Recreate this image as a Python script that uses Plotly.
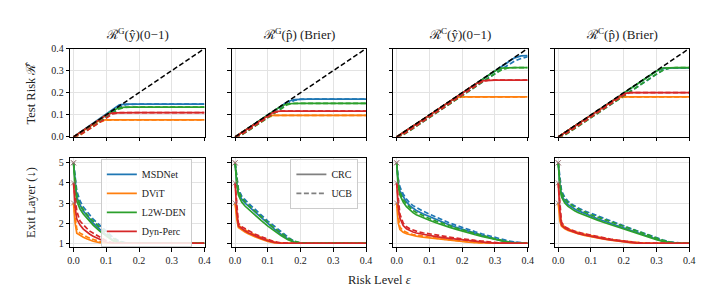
import plotly.graph_objects as go

# ---------------- data ----------------
EPS_TOP = [0.00, 0.02, 0.04, 0.06, 0.08, 0.10, 0.12, 0.14, 0.16, 0.18, 0.20,
           0.22, 0.24, 0.26, 0.28, 0.30, 0.32, 0.34, 0.36, 0.38, 0.40]
EPS_BOT = [0.00, 0.005, 0.01, 0.02, 0.03, 0.04, 0.05, 0.06, 0.08, 0.10, 0.12,
           0.14, 0.16, 0.18, 0.20, 0.22, 0.24, 0.26, 0.28, 0.30, 0.32, 0.34,
           0.36, 0.38, 0.40]
DIAG_X = [0.0, 0.4]
DIAG_Y = [0.0, 0.4]

METHODS = ["MSDNet", "DViT", "L2W-DEN", "Dyn-Perc"]
COLORS = {"MSDNet": "#1f77b4", "DViT": "#ff7f0e", "L2W-DEN": "#2ca02c", "Dyn-Perc": "#d62728"}
DRAW_ORDER = ["MSDNet", "DViT", "L2W-DEN", "Dyn-Perc"]

PANEL_TITLES = ["ℛ<sup>G</sup>(ŷ)(0−1)", "ℛ<sup>G</sup>(p̂) (Brier)",
                "ℛ<sup>C</sup>(ŷ)(0−1)", "ℛ<sup>C</sup>(p̂) (Brier)"]
RISK_TICKS = [0.0, 0.1, 0.2, 0.3, 0.4]
EXIT_TICKS = [1, 2, 3, 4, 5]
EPS_TICKS = [0.0, 0.1, 0.2, 0.3, 0.4]

# --- test risk, panel 1: R^G(y) 0-1
RISK_G01_CRC = {
    "MSDNet":   [0, 0.021, 0.042, 0.064, 0.086, 0.107, 0.128, 0.145, 0.148, 0.148, 0.148, 0.148, 0.148, 0.148, 0.148, 0.148, 0.148, 0.148, 0.148, 0.148, 0.148],
    "DViT":     [0, 0.019, 0.039, 0.059, 0.075, 0.077, 0.077, 0.077, 0.077, 0.077, 0.077, 0.077, 0.077, 0.077, 0.077, 0.077, 0.077, 0.077, 0.077, 0.077, 0.077],
    "L2W-DEN":  [0, 0.019, 0.039, 0.059, 0.079, 0.099, 0.119, 0.132, 0.135, 0.135, 0.135, 0.135, 0.135, 0.135, 0.135, 0.135, 0.135, 0.135, 0.135, 0.135, 0.135],
    "Dyn-Perc": [0, 0.019, 0.039, 0.059, 0.079, 0.099, 0.109, 0.110, 0.110, 0.110, 0.110, 0.110, 0.110, 0.110, 0.110, 0.110, 0.110, 0.110, 0.110, 0.110, 0.110],
}
RISK_G01_UCB = {
    "MSDNet":   [0, 0.012, 0.032, 0.052, 0.072, 0.093, 0.113, 0.133, 0.146, 0.148, 0.148, 0.148, 0.148, 0.148, 0.148, 0.148, 0.148, 0.148, 0.148, 0.148, 0.148],
    "DViT":     [0, 0.008, 0.027, 0.047, 0.067, 0.076, 0.077, 0.077, 0.077, 0.077, 0.077, 0.077, 0.077, 0.077, 0.077, 0.077, 0.077, 0.077, 0.077, 0.077, 0.077],
    "L2W-DEN":  [0, 0.010, 0.029, 0.049, 0.069, 0.089, 0.109, 0.127, 0.134, 0.135, 0.135, 0.135, 0.135, 0.135, 0.135, 0.135, 0.135, 0.135, 0.135, 0.135, 0.135],
    "Dyn-Perc": [0, 0.010, 0.028, 0.048, 0.068, 0.088, 0.104, 0.110, 0.110, 0.110, 0.110, 0.110, 0.110, 0.110, 0.110, 0.110, 0.110, 0.110, 0.110, 0.110, 0.110],
}
# --- panel 2: R^G(p) Brier
RISK_GB_CRC = {
    "MSDNet":   [0, 0.019, 0.039, 0.059, 0.079, 0.099, 0.119, 0.139, 0.159, 0.169, 0.171, 0.171, 0.171, 0.171, 0.171, 0.171, 0.171, 0.171, 0.171, 0.171, 0.171],
    "DViT":     [0, 0.019, 0.039, 0.059, 0.079, 0.096, 0.097, 0.097, 0.097, 0.097, 0.097, 0.097, 0.097, 0.097, 0.097, 0.097, 0.097, 0.097, 0.097, 0.097, 0.097],
    "L2W-DEN":  [0, 0.019, 0.039, 0.059, 0.079, 0.099, 0.119, 0.139, 0.150, 0.152, 0.152, 0.152, 0.152, 0.152, 0.152, 0.152, 0.152, 0.152, 0.152, 0.152, 0.152],
    "Dyn-Perc": [0, 0.019, 0.039, 0.059, 0.079, 0.099, 0.115, 0.117, 0.117, 0.117, 0.117, 0.117, 0.117, 0.117, 0.117, 0.117, 0.117, 0.117, 0.117, 0.117, 0.117],
}
RISK_GB_UCB = {
    "MSDNet":   [0, 0.010, 0.029, 0.049, 0.069, 0.089, 0.109, 0.129, 0.149, 0.165, 0.171, 0.171, 0.171, 0.171, 0.171, 0.171, 0.171, 0.171, 0.171, 0.171, 0.171],
    "DViT":     [0, 0.010, 0.029, 0.049, 0.069, 0.089, 0.097, 0.097, 0.097, 0.097, 0.097, 0.097, 0.097, 0.097, 0.097, 0.097, 0.097, 0.097, 0.097, 0.097, 0.097],
    "L2W-DEN":  [0, 0.009, 0.028, 0.048, 0.068, 0.088, 0.108, 0.128, 0.146, 0.152, 0.152, 0.152, 0.152, 0.152, 0.152, 0.152, 0.152, 0.152, 0.152, 0.152, 0.152],
    "Dyn-Perc": [0, 0.011, 0.030, 0.050, 0.070, 0.090, 0.110, 0.117, 0.117, 0.117, 0.117, 0.117, 0.117, 0.117, 0.117, 0.117, 0.117, 0.117, 0.117, 0.117, 0.117],
}
# --- panel 3: R^C(y) 0-1
RISK_C01_CRC = {
    "MSDNet":   [0, 0.018, 0.038, 0.058, 0.078, 0.098, 0.118, 0.138, 0.158, 0.178, 0.198, 0.218, 0.238, 0.258, 0.278, 0.298, 0.318, 0.338, 0.358, 0.367, 0.368],
    "DViT":     [0, 0.018, 0.038, 0.058, 0.078, 0.098, 0.118, 0.138, 0.158, 0.178, 0.181, 0.181, 0.181, 0.181, 0.181, 0.181, 0.181, 0.181, 0.181, 0.181, 0.181],
    "L2W-DEN":  [0, 0.018, 0.038, 0.058, 0.078, 0.098, 0.118, 0.138, 0.158, 0.178, 0.198, 0.218, 0.238, 0.258, 0.278, 0.298, 0.311, 0.314, 0.314, 0.314, 0.314],
    "Dyn-Perc": [0, 0.018, 0.038, 0.058, 0.078, 0.098, 0.118, 0.138, 0.158, 0.178, 0.198, 0.218, 0.238, 0.254, 0.257, 0.257, 0.257, 0.257, 0.257, 0.257, 0.257],
}
RISK_C01_UCB = {
    "MSDNet":   [0, 0.010, 0.029, 0.049, 0.068, 0.088, 0.108, 0.128, 0.147, 0.167, 0.187, 0.207, 0.227, 0.247, 0.267, 0.287, 0.306, 0.325, 0.343, 0.355, 0.363],
    "DViT":     [0, 0.012, 0.031, 0.051, 0.071, 0.091, 0.111, 0.131, 0.151, 0.171, 0.181, 0.181, 0.181, 0.181, 0.181, 0.181, 0.181, 0.181, 0.181, 0.181, 0.181],
    "L2W-DEN":  [0, 0.009, 0.028, 0.048, 0.068, 0.087, 0.107, 0.127, 0.147, 0.167, 0.187, 0.207, 0.227, 0.247, 0.267, 0.286, 0.303, 0.312, 0.314, 0.314, 0.314],
    "Dyn-Perc": [0, 0.011, 0.030, 0.050, 0.070, 0.090, 0.110, 0.130, 0.150, 0.170, 0.190, 0.210, 0.230, 0.249, 0.257, 0.257, 0.257, 0.257, 0.257, 0.257, 0.257],
}
# --- panel 4: R^C(p) Brier
RISK_CB_CRC = {
    "MSDNet":   [0, 0.018, 0.038, 0.058, 0.078, 0.098, 0.118, 0.138, 0.158, 0.178, 0.198, 0.218, 0.238, 0.258, 0.278, 0.298, 0.310, 0.312, 0.312, 0.312, 0.312],
    "DViT":     [0, 0.018, 0.038, 0.058, 0.078, 0.098, 0.118, 0.138, 0.158, 0.176, 0.181, 0.181, 0.181, 0.181, 0.181, 0.181, 0.181, 0.181, 0.181, 0.181, 0.181],
    "L2W-DEN":  [0, 0.018, 0.038, 0.058, 0.078, 0.098, 0.118, 0.138, 0.158, 0.178, 0.198, 0.218, 0.238, 0.258, 0.278, 0.298, 0.312, 0.314, 0.314, 0.314, 0.314],
    "Dyn-Perc": [0, 0.018, 0.038, 0.058, 0.078, 0.098, 0.118, 0.138, 0.158, 0.178, 0.196, 0.200, 0.200, 0.200, 0.200, 0.200, 0.200, 0.200, 0.200, 0.200, 0.200],
}
RISK_CB_UCB = {
    "MSDNet":   [0, 0.010, 0.029, 0.048, 0.068, 0.088, 0.107, 0.127, 0.147, 0.166, 0.186, 0.206, 0.226, 0.246, 0.266, 0.286, 0.303, 0.311, 0.312, 0.312, 0.312],
    "DViT":     [0, 0.011, 0.030, 0.050, 0.070, 0.090, 0.110, 0.130, 0.150, 0.170, 0.181, 0.181, 0.181, 0.181, 0.181, 0.181, 0.181, 0.181, 0.181, 0.181, 0.181],
    "L2W-DEN":  [0, 0.008, 0.027, 0.047, 0.067, 0.086, 0.106, 0.126, 0.146, 0.166, 0.185, 0.205, 0.225, 0.245, 0.265, 0.285, 0.302, 0.312, 0.314, 0.314, 0.314],
    "Dyn-Perc": [0, 0.011, 0.030, 0.050, 0.070, 0.090, 0.110, 0.130, 0.150, 0.170, 0.189, 0.200, 0.200, 0.200, 0.200, 0.200, 0.200, 0.200, 0.200, 0.200, 0.200],
}

# --- exit layer, panel 1
EXIT_G01_CRC = {
    "MSDNet":   [5, 3.9, 3.3, 2.9, 2.6, 2.4, 2.2, 2.0, 1.7, 1.4, 1.15, 1.03, 1.0, 1, 1, 1, 1, 1, 1, 1, 1, 1, 1, 1, 1],
    "DViT":     [3, 2.0, 1.5, 1.38, 1.3, 1.22, 1.16, 1.1, 1.03, 1.0, 1, 1, 1, 1, 1, 1, 1, 1, 1, 1, 1, 1, 1, 1, 1],
    "L2W-DEN":  [5, 3.7, 3.1, 2.7, 2.45, 2.25, 2.05, 1.9, 1.6, 1.35, 1.12, 1.02, 1.0, 1, 1, 1, 1, 1, 1, 1, 1, 1, 1, 1, 1],
    "Dyn-Perc": [4, 2.8, 2.2, 1.9, 1.7, 1.55, 1.45, 1.35, 1.18, 1.05, 1.0, 1, 1, 1, 1, 1, 1, 1, 1, 1, 1, 1, 1, 1, 1],
}
EXIT_G01_UCB = {
    "MSDNet":   [5, 4.3, 3.6, 3.1, 2.8, 2.6, 2.4, 2.2, 1.9, 1.6, 1.3, 1.1, 1.02, 1.0, 1, 1, 1, 1, 1, 1, 1, 1, 1, 1, 1],
    "DViT":     [3, 2.4, 1.7, 1.5, 1.4, 1.32, 1.25, 1.18, 1.08, 1.02, 1.0, 1, 1, 1, 1, 1, 1, 1, 1, 1, 1, 1, 1, 1, 1],
    "L2W-DEN":  [5, 4.1, 3.4, 2.9, 2.65, 2.45, 2.25, 2.1, 1.8, 1.5, 1.25, 1.07, 1.01, 1.0, 1, 1, 1, 1, 1, 1, 1, 1, 1, 1, 1],
    "Dyn-Perc": [4, 3.2, 2.6, 2.1, 1.9, 1.75, 1.6, 1.5, 1.3, 1.12, 1.02, 1.0, 1, 1, 1, 1, 1, 1, 1, 1, 1, 1, 1, 1, 1],
}
# --- exit layer, panel 2
EXIT_GB_CRC = {
    "MSDNet":   [5, 4.0, 3.5, 3.2, 3.0, 2.85, 2.7, 2.55, 2.25, 1.95, 1.7, 1.45, 1.22, 1.06, 1.0, 1, 1, 1, 1, 1, 1, 1, 1, 1, 1],
    "DViT":     [3, 2.2, 1.78, 1.66, 1.56, 1.47, 1.39, 1.32, 1.2, 1.09, 1.02, 1.0, 1, 1, 1, 1, 1, 1, 1, 1, 1, 1, 1, 1, 1],
    "L2W-DEN":  [5, 3.9, 3.4, 3.05, 2.85, 2.7, 2.55, 2.4, 2.12, 1.85, 1.6, 1.38, 1.18, 1.05, 1.0, 1, 1, 1, 1, 1, 1, 1, 1, 1, 1],
    "Dyn-Perc": [4, 2.6, 1.85, 1.72, 1.62, 1.52, 1.44, 1.37, 1.24, 1.12, 1.04, 1.0, 1, 1, 1, 1, 1, 1, 1, 1, 1, 1, 1, 1, 1],
}
EXIT_GB_UCB = {
    "MSDNet":   [5, 4.3, 3.7, 3.35, 3.15, 3.0, 2.85, 2.7, 2.4, 2.1, 1.85, 1.58, 1.32, 1.1, 1.01, 1.0, 1, 1, 1, 1, 1, 1, 1, 1, 1],
    "DViT":     [3, 2.5, 1.9, 1.76, 1.66, 1.57, 1.49, 1.42, 1.28, 1.16, 1.06, 1.01, 1.0, 1, 1, 1, 1, 1, 1, 1, 1, 1, 1, 1, 1],
    "L2W-DEN":  [5, 4.2, 3.6, 3.25, 3.05, 2.9, 2.75, 2.6, 2.3, 2.02, 1.76, 1.5, 1.27, 1.1, 1.02, 1.0, 1, 1, 1, 1, 1, 1, 1, 1, 1],
    "Dyn-Perc": [4, 3.0, 2.0, 1.82, 1.72, 1.62, 1.54, 1.46, 1.32, 1.19, 1.08, 1.02, 1.0, 1, 1, 1, 1, 1, 1, 1, 1, 1, 1, 1, 1],
}
# --- exit layer, panel 3
EXIT_C01_CRC = {
    "MSDNet":   [5, 4.0, 3.6, 3.3, 3.05, 2.87, 2.74, 2.63, 2.47, 2.33, 2.18, 2.04, 1.92, 1.8, 1.69, 1.58, 1.48, 1.39, 1.3, 1.21, 1.13, 1.07, 1.03, 1.01, 1.0],
    "DViT":     [3, 2.0, 1.68, 1.55, 1.47, 1.42, 1.38, 1.35, 1.3, 1.26, 1.22, 1.18, 1.14, 1.11, 1.08, 1.05, 1.03, 1.01, 1.0, 1, 1, 1, 1, 1, 1],
    "L2W-DEN":  [5, 3.8, 3.4, 3.05, 2.82, 2.65, 2.52, 2.42, 2.27, 2.14, 2.02, 1.9, 1.8, 1.7, 1.6, 1.51, 1.42, 1.34, 1.26, 1.18, 1.1, 1.05, 1.01, 1.0, 1.0],
    "Dyn-Perc": [4, 2.8, 2.25, 1.88, 1.72, 1.63, 1.56, 1.51, 1.44, 1.38, 1.33, 1.28, 1.24, 1.2, 1.16, 1.12, 1.09, 1.06, 1.03, 1.01, 1.0, 1, 1, 1, 1],
}
EXIT_C01_UCB = {
    "MSDNet":   [5, 4.2, 3.8, 3.45, 3.2, 3.0, 2.87, 2.77, 2.6, 2.45, 2.3, 2.15, 2.02, 1.9, 1.78, 1.67, 1.57, 1.47, 1.38, 1.29, 1.2, 1.12, 1.06, 1.02, 1.0],
    "DViT":     [3, 2.3, 1.8, 1.62, 1.53, 1.47, 1.43, 1.4, 1.34, 1.29, 1.25, 1.21, 1.17, 1.14, 1.1, 1.07, 1.04, 1.02, 1.0, 1, 1, 1, 1, 1, 1],
    "L2W-DEN":  [5, 4.0, 3.55, 3.18, 2.95, 2.77, 2.63, 2.53, 2.37, 2.23, 2.1, 1.98, 1.87, 1.77, 1.67, 1.57, 1.48, 1.39, 1.3, 1.22, 1.14, 1.07, 1.02, 1.0, 1.0],
    "Dyn-Perc": [4, 3.0, 2.45, 2.0, 1.82, 1.72, 1.65, 1.6, 1.52, 1.46, 1.41, 1.36, 1.31, 1.26, 1.21, 1.17, 1.14, 1.11, 1.07, 1.04, 1.01, 1.0, 1, 1, 1],
}
# --- exit layer, panel 4
EXIT_CB_CRC = {
    "MSDNet":   [5, 3.9, 3.4, 3.1, 2.92, 2.8, 2.7, 2.62, 2.47, 2.35, 2.22, 2.1, 1.98, 1.87, 1.75, 1.64, 1.53, 1.42, 1.31, 1.2, 1.1, 1.03, 1.0, 1.0, 1.0],
    "DViT":     [3, 2.1, 1.85, 1.72, 1.64, 1.58, 1.52, 1.47, 1.39, 1.32, 1.26, 1.2, 1.15, 1.1, 1.06, 1.03, 1.01, 1.0, 1, 1, 1, 1, 1, 1, 1],
    "L2W-DEN":  [5, 3.8, 3.3, 3.0, 2.83, 2.71, 2.61, 2.53, 2.39, 2.27, 2.15, 2.03, 1.92, 1.81, 1.7, 1.59, 1.48, 1.38, 1.28, 1.18, 1.09, 1.03, 1.0, 1.0, 1.0],
    "Dyn-Perc": [4, 2.6, 1.9, 1.75, 1.67, 1.6, 1.54, 1.49, 1.41, 1.34, 1.28, 1.22, 1.17, 1.12, 1.08, 1.04, 1.01, 1.0, 1, 1, 1, 1, 1, 1, 1],
}
EXIT_CB_UCB = {
    "MSDNet":   [5, 4.1, 3.6, 3.28, 3.08, 2.95, 2.85, 2.76, 2.61, 2.48, 2.35, 2.22, 2.1, 1.98, 1.86, 1.74, 1.62, 1.5, 1.38, 1.27, 1.16, 1.07, 1.02, 1.0, 1.0],
    "DViT":     [3, 2.4, 1.98, 1.8, 1.7, 1.64, 1.58, 1.53, 1.45, 1.38, 1.31, 1.25, 1.19, 1.14, 1.1, 1.06, 1.03, 1.01, 1.0, 1, 1, 1, 1, 1, 1],
    "L2W-DEN":  [5, 4.0, 3.5, 3.2, 3.02, 2.89, 2.79, 2.7, 2.55, 2.42, 2.3, 2.18, 2.06, 1.94, 1.82, 1.7, 1.59, 1.47, 1.36, 1.25, 1.14, 1.06, 1.01, 1.0, 1.0],
    "Dyn-Perc": [4, 2.9, 2.05, 1.82, 1.73, 1.66, 1.6, 1.55, 1.47, 1.4, 1.33, 1.27, 1.21, 1.16, 1.11, 1.07, 1.03, 1.01, 1.0, 1, 1, 1, 1, 1, 1],
}

RISK_PANELS = [(RISK_G01_CRC, RISK_G01_UCB), (RISK_GB_CRC, RISK_GB_UCB),
               (RISK_C01_CRC, RISK_C01_UCB), (RISK_CB_CRC, RISK_CB_UCB)]
EXIT_PANELS = [(EXIT_G01_CRC, EXIT_G01_UCB), (EXIT_GB_CRC, EXIT_GB_UCB),
               (EXIT_C01_CRC, EXIT_C01_UCB), (EXIT_CB_CRC, EXIT_CB_UCB)]

# ---------------- layout geometry (pixels) ----------------
W, H = 706, 299
COL_LEFT = [60, 223.7, 387.3, 551]
COL_W = 136
TOP_ROW = (36, 128)
BOT_ROW = (150, 243)
FONT = "Liberation Serif"
DASH = "5px,2.5px"
LW = 1.7

fig = go.Figure()


def ax_name(k, kind):
    return kind + ("" if k == 1 else str(k))


for col in range(4):
    kt = col + 1
    kb = col + 5
    crc, ucb = RISK_PANELS[col]
    for m in DRAW_ORDER:
        fig.add_trace(go.Scatter(x=EPS_TOP, y=crc[m], mode="lines",
                                 line=dict(color=COLORS[m], width=LW),
                                 xaxis=ax_name(kt, "x"), yaxis=ax_name(kt, "y"),
                                 showlegend=False, hoverinfo="skip"))
        fig.add_trace(go.Scatter(x=EPS_TOP, y=ucb[m], mode="lines",
                                 line=dict(color=COLORS[m], width=LW, dash=DASH),
                                 xaxis=ax_name(kt, "x"), yaxis=ax_name(kt, "y"),
                                 showlegend=False, hoverinfo="skip"))
    fig.add_trace(go.Scatter(x=DIAG_X, y=DIAG_Y, mode="lines",
                             line=dict(color="black", width=1.5, dash=DASH),
                             xaxis=ax_name(kt, "x"), yaxis=ax_name(kt, "y"),
                             showlegend=False, hoverinfo="skip"))

    ecrc, eucb = EXIT_PANELS[col]
    for m in DRAW_ORDER:
        fig.add_trace(go.Scatter(x=EPS_BOT, y=ecrc[m], mode="lines",
                                 line=dict(color=COLORS[m], width=LW),
                                 xaxis=ax_name(kb, "x"), yaxis=ax_name(kb, "y"),
                                 name=m, legend="legend",
                                 showlegend=(col == 0), hoverinfo="skip"))
        fig.add_trace(go.Scatter(x=EPS_BOT, y=eucb[m], mode="lines",
                                 line=dict(color=COLORS[m], width=LW, dash=DASH),
                                 xaxis=ax_name(kb, "x"), yaxis=ax_name(kb, "y"),
                                 showlegend=False, hoverinfo="skip"))
    # start markers at eps = 0
    fig.add_trace(go.Scatter(x=[EPS_BOT[0]] * 4, y=[ecrc[m][0] for m in METHODS],
                             mode="markers",
                             marker=dict(symbol="x-thin", size=5, color="rgba(150,110,110,0.8)",
                                         line=dict(width=1, color="rgba(150,110,110,0.8)")),
                             xaxis=ax_name(kb, "x"), yaxis=ax_name(kb, "y"),
                             showlegend=False, hoverinfo="skip"))

# legend entries for CRC / UCB
fig.add_trace(go.Scatter(x=[None], y=[None], mode="lines", name="CRC",
                         line=dict(color="gray", width=LW), legend="legend2",
                         xaxis="x6", yaxis="y6"))
fig.add_trace(go.Scatter(x=[None], y=[None], mode="lines", name="UCB",
                         line=dict(color="gray", width=LW, dash=DASH), legend="legend2",
                         xaxis="x6", yaxis="y6"))

layout = dict(
    width=W, height=H, margin=dict(l=0, r=0, t=0, b=0),
    paper_bgcolor="white", plot_bgcolor="white",
    font=dict(family=FONT, size=10, color="#222"),
    legend=dict(x=91 / W, y=1 - 151 / H, xanchor="left", yanchor="top",
                bgcolor="rgba(255,255,255,0.85)", bordercolor="#cccccc", borderwidth=1,
                font=dict(family=FONT, size=10), itemwidth=30, tracegroupgap=0,
                traceorder="normal"),
    legend2=dict(x=283 / W, y=1 - 151 / H, xanchor="left", yanchor="top",
                 bgcolor="rgba(255,255,255,0.85)", bordercolor="#cccccc", borderwidth=1,
                 font=dict(family=FONT, size=10), itemwidth=30, tracegroupgap=0),
)

for col in range(4):
    x0 = COL_LEFT[col] / W
    x1 = (COL_LEFT[col] + COL_W) / W
    for row, (ytop, ybot) in enumerate([TOP_ROW, BOT_ROW]):
        k = col + 1 + 4 * row
        xa = "xaxis" + ("" if k == 1 else str(k))
        ya = "yaxis" + ("" if k == 1 else str(k))
        layout[xa] = dict(
            domain=[x0, x1], anchor=ax_name(k, "y"), range=[-0.01, 0.4],
            tickvals=EPS_TICKS, ticktext=[f"{v:.1f}" for v in EPS_TICKS],
            showticklabels=(row == 1), ticks="outside", ticklen=3.5, tickwidth=1,
            tickcolor="black", showline=True, linecolor="black", linewidth=1.2,
            mirror=True, showgrid=True, gridcolor="#e3e3e3", gridwidth=0.8,
            zeroline=False, tickfont=dict(size=10, family=FONT, color="#222"),
        )
        if row == 0:
            yr, ytv = [0, 0.4], RISK_TICKS
            ytt = [f"{v:.1f}" for v in RISK_TICKS]
        else:
            yr, ytv = [0.8, 5.24], EXIT_TICKS
            ytt = [str(v) for v in EXIT_TICKS]
        layout[ya] = dict(
            domain=[1 - ybot / H, 1 - ytop / H], anchor=ax_name(k, "x"), range=yr,
            tickvals=ytv, ticktext=ytt, showticklabels=(col == 0),
            ticks="outside", ticklen=3.5, tickwidth=1, tickcolor="black",
            showline=True, linecolor="black", linewidth=1.2, mirror=True,
            showgrid=True, gridcolor="#e3e3e3", gridwidth=0.8, zeroline=False,
            tickfont=dict(size=10, family=FONT, color="#222"),
        )

annotations = []
for col in range(4):
    annotations.append(dict(text=PANEL_TITLES[col], x=(COL_LEFT[col] + COL_W / 2) / W,
                            y=1 - 21 / H, xref="paper", yref="paper",
                            showarrow=False, font=dict(size=13, family=FONT, color="#222"),
                            xanchor="center", yanchor="middle"))
annotations.append(dict(text="Test Risk ℛ̂", x=20 / W, y=1 - 82 / H, xref="paper",
                        yref="paper", showarrow=False, textangle=-90,
                        font=dict(size=12.5, family=FONT, color="#222"),
                        xanchor="center", yanchor="middle"))
annotations.append(dict(text="Exit Layer (↓)", x=20 / W, y=1 - 196 / H, xref="paper",
                        yref="paper", showarrow=False, textangle=-90,
                        font=dict(size=12.5, family=FONT, color="#222"),
                        xanchor="center", yanchor="middle"))
annotations.append(dict(text="Risk Level <i>ε</i>", x=373 / W, y=1 - 277 / H, xref="paper",
                        yref="paper", showarrow=False,
                        font=dict(size=12.5, family=FONT, color="#222"),
                        xanchor="center", yanchor="middle"))
layout["annotations"] = annotations

fig.update_layout(**layout)
fig.write_html("out.html")
